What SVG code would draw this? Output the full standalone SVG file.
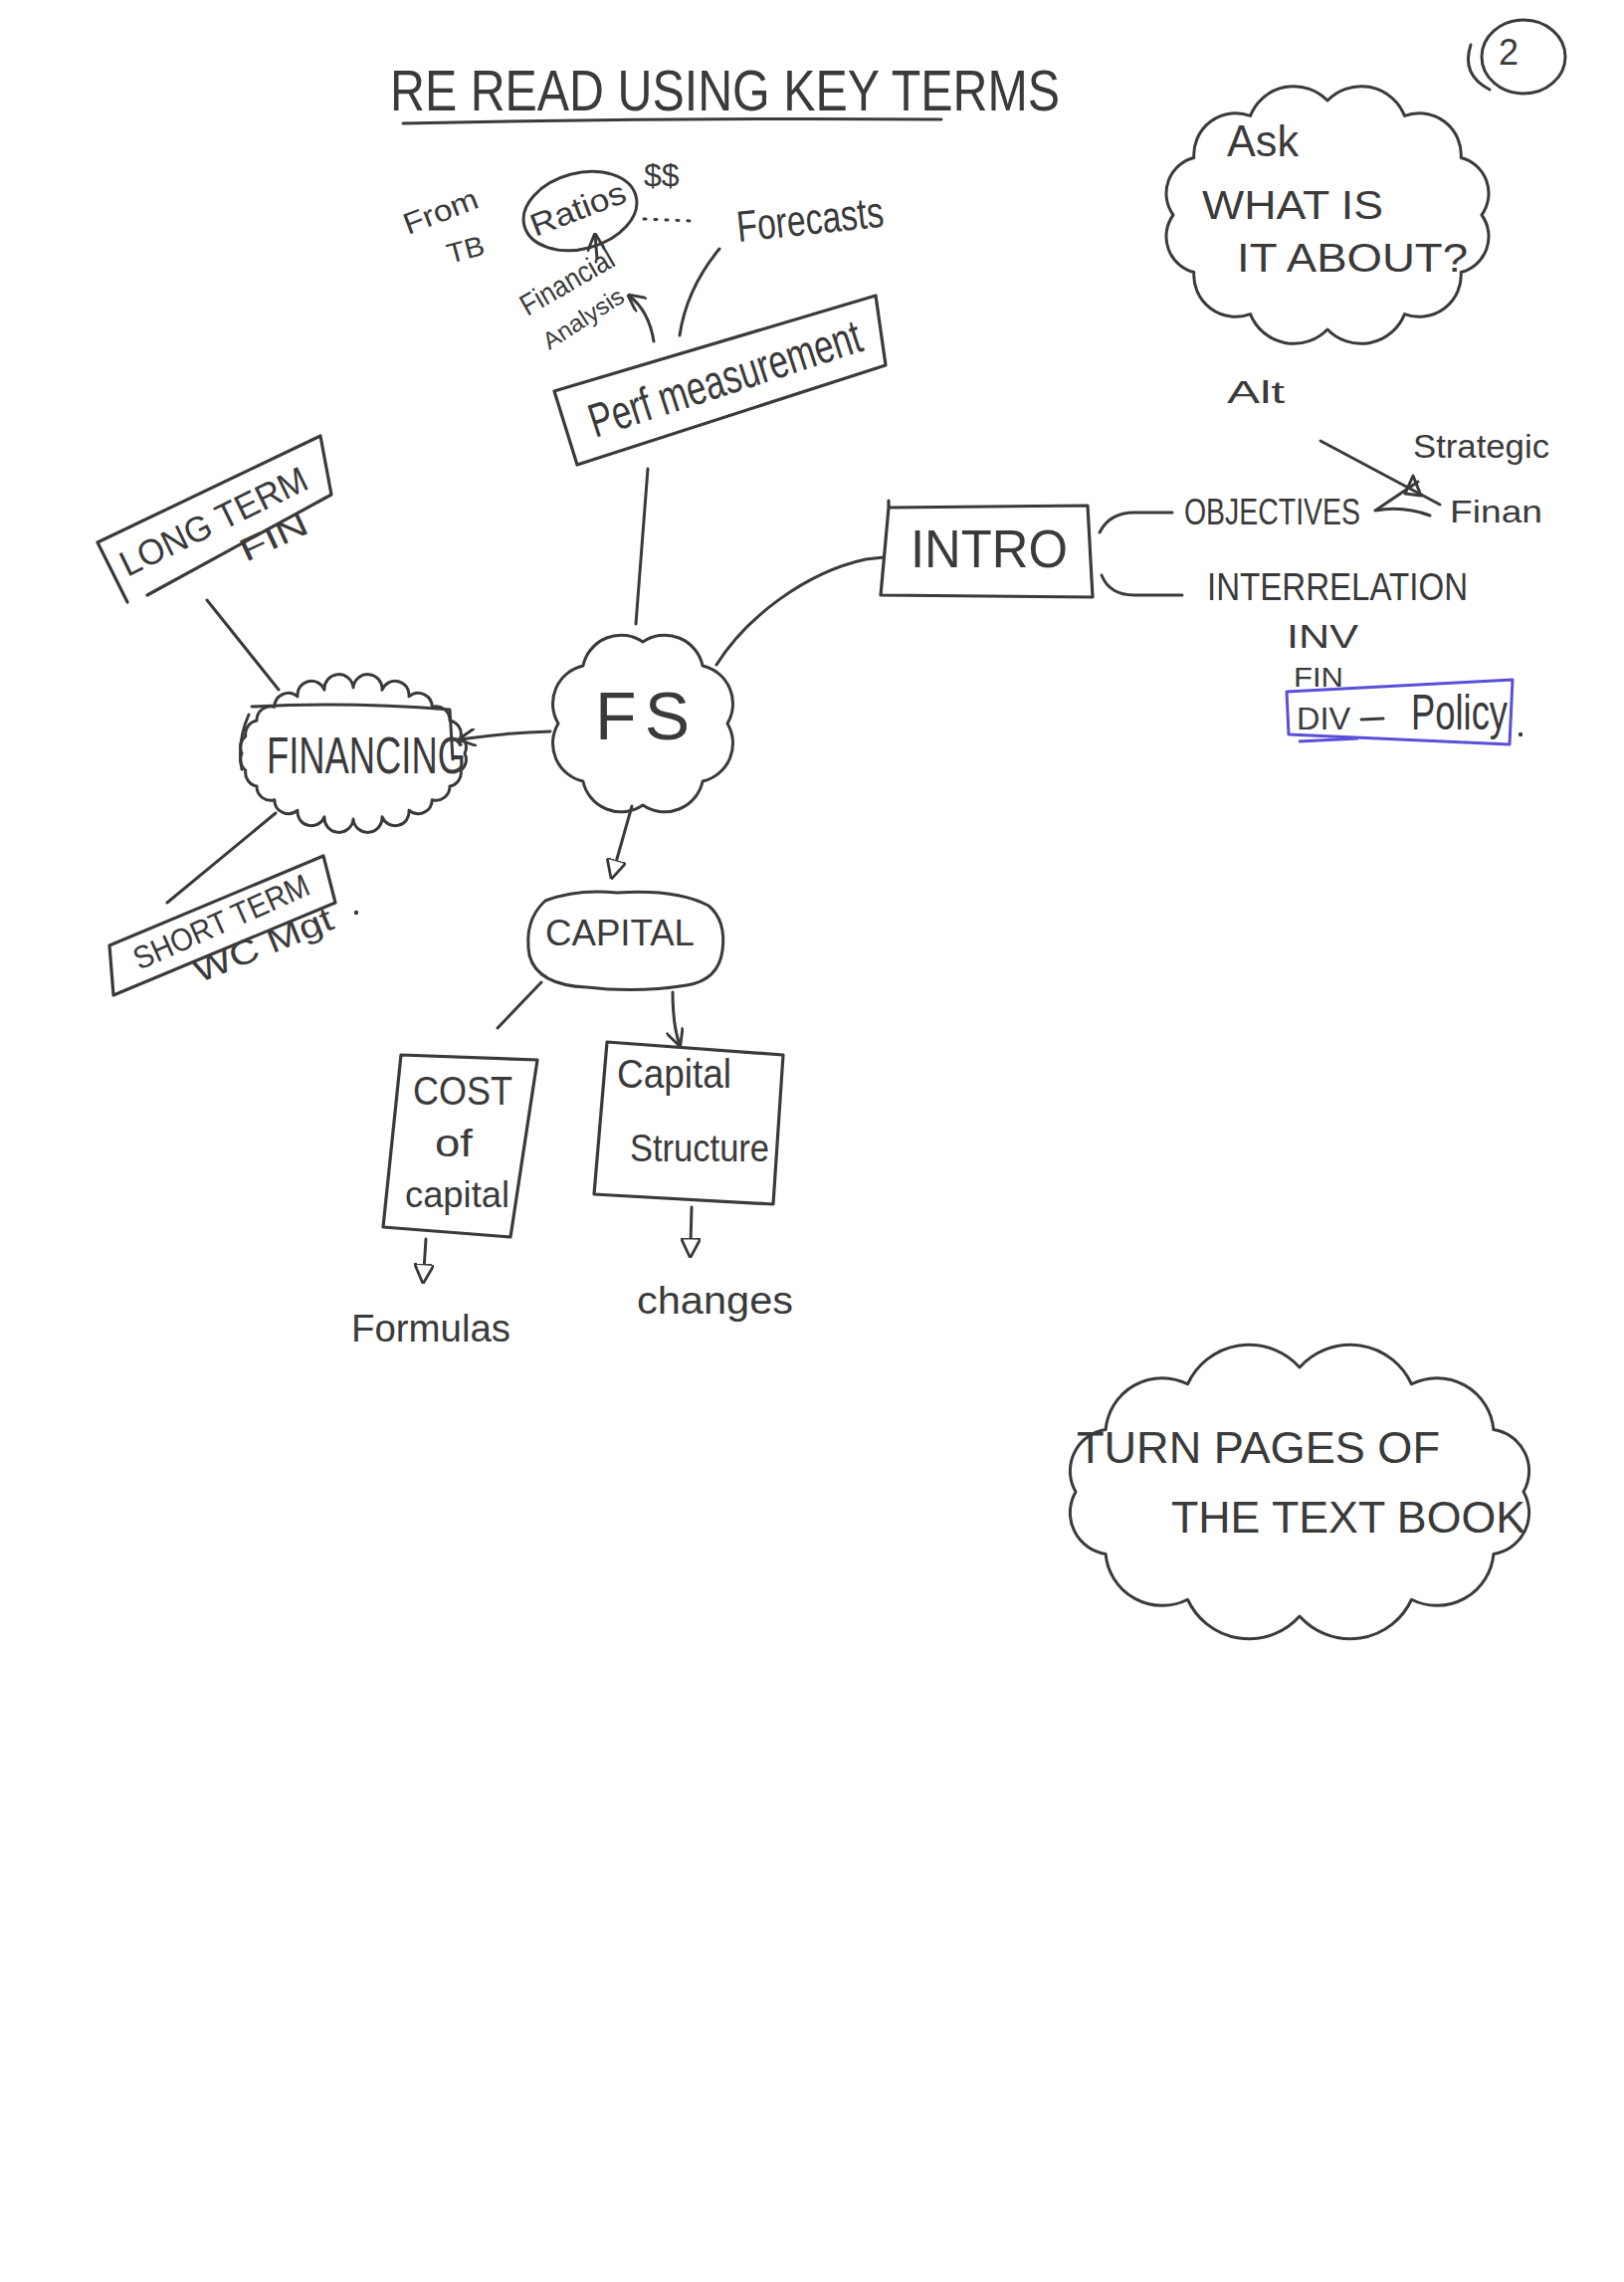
<svg xmlns="http://www.w3.org/2000/svg" width="1632" height="2293" viewBox="0 0 1632 2293">
<style>
.ink{stroke:#3a3a3a;stroke-width:3;fill:none;stroke-linecap:round;stroke-linejoin:round}
.box{stroke:#3a3a3a;stroke-width:3.2;fill:none;stroke-linejoin:round;stroke-linecap:round}
.blue{stroke:#5a4fd8;stroke-width:3;fill:none;stroke-linejoin:round}
.t{font-family:"Liberation Sans",Arial,sans-serif;fill:#3a3a3a}
</style>
<defs>
<marker id="tri" viewBox="0 0 10 10" refX="3" refY="5" markerUnits="userSpaceOnUse" markerWidth="20" markerHeight="20" orient="auto">
<path d="M0,0 L10,5 L0,10 Z" fill="#fff" stroke="#3a3a3a" stroke-width="1.4"/>
</marker>
<marker id="vee" viewBox="0 0 10 10" refX="9" refY="5" markerUnits="userSpaceOnUse" markerWidth="18" markerHeight="18" orient="auto">
<path d="M0,0 L10,5 L0,10" fill="none" stroke="#3a3a3a" stroke-width="1.6"/>
</marker>
</defs>
<rect width="1632" height="2293" fill="#fff"/>

<g id="title">
<text class="t" x="392" y="111" font-size="58" textLength="673" lengthAdjust="spacingAndGlyphs">RE READ USING KEY TERMS</text>
<path class="ink" d="M405 124 Q680 118 946 120" stroke-width="3.5"/>
</g>

<g id="page-number">
<ellipse class="ink" cx="1531" cy="57" rx="42" ry="37"/>
<path class="ink" d="M1478 45 Q1468 75 1497 90"/>
<text class="t" x="1506" y="65" font-size="36">2</text>
</g>

<g id="node-ask">
<path class="ink" d="M1179 216 A37 37 0 0 1 1199.8 158.5 A42 42 0 0 1 1256.5 116.4 A47 47 0 0 1 1334 101 A47 47 0 0 1 1411.5 116.4 A42 42 0 0 1 1468.2 158.5 A37 37 0 0 1 1489 216 A37 37 0 0 1 1468.2 273.5 A42 42 0 0 1 1411.5 315.6 A47 47 0 0 1 1334 331 A47 47 0 0 1 1256.5 315.6 A42 42 0 0 1 1199.8 273.5 A37 37 0 0 1 1179 216 Z"/>
<text class="t" x="1233" y="157" font-size="44" textLength="72" lengthAdjust="spacingAndGlyphs">Ask</text>
<text class="t" x="1208" y="220" font-size="40" textLength="182" lengthAdjust="spacingAndGlyphs">WHAT IS</text>
<text class="t" x="1243" y="273" font-size="40" textLength="232" lengthAdjust="spacingAndGlyphs">IT ABOUT?</text>
</g>

<g id="node-ratios">
<ellipse class="ink" cx="583" cy="212" rx="58" ry="38" transform="rotate(-15 583 212)"/>
<text class="t" x="538" y="238" font-size="32" textLength="100" lengthAdjust="spacingAndGlyphs" transform="rotate(-21 538 238)">Ratios</text>
</g>
<g id="label-from-tb">
<text class="t" x="410" y="236" font-size="30" textLength="78" lengthAdjust="spacingAndGlyphs" transform="rotate(-21 410 236)">From</text>
<text class="t" x="452" y="265" font-size="28" textLength="38" lengthAdjust="spacingAndGlyphs" transform="rotate(-15 452 265)">TB</text>
</g>
<g id="label-dollars">
<text class="t" x="647" y="187" font-size="32">$$</text>
</g>
<g id="node-forecasts">
<text class="t" x="742" y="243" font-size="44" textLength="148" lengthAdjust="spacingAndGlyphs" transform="rotate(-6 742 243)">Forecasts</text>
</g>
<g id="node-financial-analysis">
<text class="t" x="530" y="318" font-size="30" textLength="104" lengthAdjust="spacingAndGlyphs" transform="rotate(-30 530 318)">Financial</text>
<text class="t" x="552" y="352" font-size="24" textLength="92" lengthAdjust="spacingAndGlyphs" transform="rotate(-33 552 352)">Analysis</text>
</g>

<g id="node-perf">
<path class="box" d="M557 393 L880 297 L890 367 L580 467 Z"/>
<text class="t" x="598" y="440" font-size="48" textLength="285" lengthAdjust="spacingAndGlyphs" transform="rotate(-18 598 440)">Perf measurement</text>
</g>

<g id="node-fs">
<path class="ink" d="M561 727 A39 39 0 0 1 585.9 669 A39 39 0 0 1 646 645 A39 39 0 0 1 706.1 669 A39 39 0 0 1 731 727 A39 39 0 0 1 706.1 785 A39 39 0 0 1 646 809 A39 39 0 0 1 585.9 785 A39 39 0 0 1 561 727 Z"/>
<text class="t" x="598" y="743" font-size="68" textLength="95" lengthAdjust="spacing">FS</text>
</g>

<g id="node-intro">
<path class="box" d="M893 503 L893 510 L1093 508 L1098 600 L885 598 L893 510"/>
<text class="t" x="915" y="570" font-size="54" textLength="158" lengthAdjust="spacingAndGlyphs">INTRO</text>
</g>
<g id="node-alt">
<text class="t" x="1233" y="405" font-size="32" textLength="58" lengthAdjust="spacingAndGlyphs">Alt</text>
</g>
<g id="node-objectives">
<text class="t" x="1190" y="527" font-size="36" textLength="177" lengthAdjust="spacingAndGlyphs">OBJECTIVES</text>
</g>
<g id="node-strategic">
<text class="t" x="1420" y="460" font-size="34" textLength="137" lengthAdjust="spacingAndGlyphs">Strategic</text>
</g>
<g id="node-finan">
<text class="t" x="1457" y="525" font-size="32" textLength="93" lengthAdjust="spacingAndGlyphs">Finan</text>
</g>
<g id="node-interrelation">
<text class="t" x="1213" y="603" font-size="38" textLength="262" lengthAdjust="spacingAndGlyphs">INTERRELATION</text>
<text class="t" x="1293" y="651" font-size="34" textLength="72" lengthAdjust="spacingAndGlyphs">INV</text>
<text class="t" x="1300" y="690" font-size="28" textLength="50" lengthAdjust="spacingAndGlyphs">FIN</text>
</g>
<g id="node-div-policy">
<path class="blue" d="M1293 695 L1520 683 L1517 748 L1295 738 Z"/>
<path class="blue" d="M1305 745 L1365 742" stroke-width="6"/>
<text class="t" x="1303" y="733" font-size="32" textLength="54" lengthAdjust="spacingAndGlyphs">DIV</text>
<path class="ink" d="M1368 723 L1390 722"/>
<text class="t" x="1418" y="733" font-size="50" textLength="97" lengthAdjust="spacingAndGlyphs">Policy</text>
<circle cx="1528" cy="738" r="2.2" fill="#3a3a3a"/>
</g>

<g id="node-long-term">
<path class="box" d="M98 545 L322 438 L333 497 L148 598 M98 545 L128 605"/>
<text class="t" x="128" y="580" font-size="36" textLength="205" lengthAdjust="spacingAndGlyphs" transform="rotate(-26 128 580)">LONG TERM</text>
<text class="t" x="247" y="565" font-size="32" textLength="72" lengthAdjust="spacingAndGlyphs" transform="rotate(-25 247 565)">FIN</text>
</g>

<g id="node-financing">
<path class="ink" stroke-width="2.6" d="M467 757 A14 14 0 0 1 463.2 774.1 A14 14 0 0 1 452 790 A14 14 0 0 1 434.2 803.7 A14 14 0 0 1 411 814.2 A14 14 0 0 1 384 820.7 A14 14 0 0 1 355 823 A14 14 0 0 1 326 820.7 A14 14 0 0 1 299 814.2 A14 14 0 0 1 275.8 803.7 A14 14 0 0 1 258 790 A14 14 0 0 1 246.8 774.1 A14 14 0 0 1 243 757 A14 14 0 0 1 246.8 739.9 A14 14 0 0 1 258 724 A14 14 0 0 1 275.8 710.3 A14 14 0 0 1 299 699.8 A14 14 0 0 1 326 693.3 A14 14 0 0 1 355 691 A14 14 0 0 1 384 693.3 A14 14 0 0 1 411 699.8 A14 14 0 0 1 434.2 710.3 A14 14 0 0 1 452 724 A14 14 0 0 1 463.2 739.9 A14 14 0 0 1 467 757 Z"/>
<path class="ink" d="M253 710 Q350 705 452 713 L455 763 M250 718 Q238 745 243 773"/>
<text class="t" x="268" y="777" font-size="52" textLength="200" lengthAdjust="spacingAndGlyphs">FINANCING</text>
</g>

<g id="node-short-term">
<path class="box" d="M110 950 L325 860 L337 907 L114 1000 Z"/>
<text class="t" x="140" y="975" font-size="32" textLength="190" lengthAdjust="spacingAndGlyphs" transform="rotate(-24 140 975)">SHORT TERM</text>
<text class="t" x="200" y="988" font-size="34" textLength="148" lengthAdjust="spacingAndGlyphs" transform="rotate(-22 200 988)">WC Mgt</text>
<circle cx="358" cy="917" r="2.2" fill="#3a3a3a"/>
</g>

<g id="node-capital">
<path class="ink" d="M548 905 Q580 893 620 897 Q680 893 712 910 Q730 925 726 955 Q722 985 690 990 Q640 998 590 992 Q540 990 532 960 Q526 925 548 905 Z"/>
<text class="t" x="548" y="950" font-size="36" textLength="150" lengthAdjust="spacingAndGlyphs">CAPITAL</text>
</g>

<g id="node-cost-of-capital">
<path class="box" d="M403 1060 L540 1065 L513 1243 L385 1233 Z"/>
<text class="t" x="415" y="1110" font-size="40" textLength="100" lengthAdjust="spacingAndGlyphs">COST</text>
<text class="t" x="437" y="1162" font-size="38" textLength="38" lengthAdjust="spacingAndGlyphs">of</text>
<text class="t" x="407" y="1213" font-size="36" textLength="105" lengthAdjust="spacingAndGlyphs">capital</text>
</g>

<g id="node-capital-structure">
<path class="box" d="M610 1047 L787 1060 L777 1210 L597 1200 Z"/>
<text class="t" x="620" y="1093" font-size="40" textLength="115" lengthAdjust="spacingAndGlyphs">Capital</text>
<text class="t" x="633" y="1167" font-size="38" textLength="140" lengthAdjust="spacingAndGlyphs">Structure</text>
</g>

<g id="node-formulas">
<text class="t" x="353" y="1348" font-size="38" textLength="160" lengthAdjust="spacingAndGlyphs">Formulas</text>
</g>
<g id="node-changes">
<text class="t" x="640" y="1320" font-size="38" textLength="157" lengthAdjust="spacingAndGlyphs">changes</text>
</g>

<g id="node-turn-pages">
<path class="ink" d="M1081 1499 A42 42 0 0 1 1111.1 1436.5 A57 57 0 0 1 1193.5 1390.75 A68 68 0 0 1 1306 1374 A68 68 0 0 1 1418.5 1390.75 A57 57 0 0 1 1500.9 1436.5 A42 42 0 0 1 1531 1499 A42 42 0 0 1 1500.9 1561.5 A57 57 0 0 1 1418.5 1607.25 A68 68 0 0 1 1306 1624 A68 68 0 0 1 1193.5 1607.25 A57 57 0 0 1 1111.1 1561.5 A42 42 0 0 1 1081 1499 Z"/>
<text class="t" x="1082" y="1470" font-size="44" textLength="365" lengthAdjust="spacingAndGlyphs">TURN PAGES OF</text>
<text class="t" x="1177" y="1540" font-size="44" textLength="356" lengthAdjust="spacingAndGlyphs">THE TEXT BOOK</text>
</g>

<g id="connectors">
<path class="ink" d="M651 471 L639 627"/>
<path class="ink" d="M720 668 C750 620 810 575 870 562 L888 560"/>
<path class="ink" d="M553 735 Q510 736 462 743" marker-end="url(#vee)"/>
<path class="ink" d="M635 810 L618 870" marker-end="url(#tri)"/>
<path class="ink" d="M208 603 L280 693"/>
<path class="ink" d="M277 817 L168 907"/>
<path class="ink" d="M544 987 L500 1033"/>
<path class="ink" d="M676 997 Q676 1030 683 1050" marker-end="url(#vee)"/>
<path class="ink" d="M428 1245 L426 1276" marker-end="url(#tri)"/>
<path class="ink" d="M695 1213 L694 1250" marker-end="url(#tri)"/>
<path class="ink" d="M683 337 Q690 290 723 250"/>
<path class="ink" d="M657 343 Q652 312 632 297" marker-end="url(#vee)"/>
<path class="ink" d="M600 260 L598 236" marker-end="url(#vee)"/>
<path class="ink" d="M647 220 L695 222" stroke-width="2" stroke-dasharray="2 9"/>
<path class="ink" d="M1105 535 Q1115 515 1140 515 L1178 515"/>
<path class="ink" d="M1107 578 Q1115 598 1140 598 L1188 598"/>
<path class="ink" d="M1425 484 L1382 513 Q1410 508 1437 518"/>
<path class="ink" d="M1420 478 L1428 498 L1412 496 Z" stroke-width="2.5"/>
<path class="ink" d="M1327 443 L1447 507" stroke-width="2.5"/>
</g>
</svg>
